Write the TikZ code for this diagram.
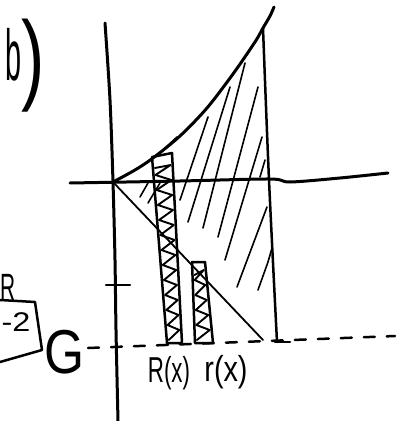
\documentclass[tikz,border=0pt]{standalone}
\usepackage{fontspec}
\usepackage{graphicx}
\setmainfont{Liberation Sans}
\begin{document}
\begin{tikzpicture}[x=1pt,y=-1pt,line cap=round,line join=round,
  axis/.style={line width=3pt},
  thin line/.style={line width=1.8pt},
  hatch/.style={line width=1.6pt},
  strip/.style={line width=2.5pt},
  zig/.style={line width=1.9pt},
  lbl/.style={inner sep=0pt},
  declare function={xl(\t)=152+(\t-157)*15/186; xr(\t)=172+(\t-153)*10/190;
                    sl(\t)=192+(\t-262)*3/81; sr(\t)=205+(\t-262)*8/81;}]
\useasboundingbox (0,0) rectangle (405,421);
% axes
\draw[axis] plot[smooth] coordinates {(105,23) (110,100) (113,182) (115,260) (116,330) (118,421)};
\draw[axis] plot[smooth] coordinates {(70,183) (180,181) (270,179) (290,182) (340,178) (388,173)};
% curve
\draw[axis] plot[smooth] coordinates {(113,182) (135,170) (153,158) (180,136) (207,108) (233,74) (255,42) (263,28) (270,16) (274,7)};
% right boundary
\draw[strip] plot[smooth] coordinates {(263,28) (269,180) (277,342)};
% diagonal
\draw[thin line] (113,182) -- (263,340);
% dashed line y=G
\draw[strip,dash pattern=on 11pt off 12pt] (88,348) -- (395,336);
\draw[strip] (275,342) -- (290,342);
% tick
\draw[strip] (106,285) -- (130,285);
% hatching of region
\draw[hatch] (140,197) -- (148,183);
\draw[hatch] (148,203) -- (160,183);
\draw[hatch] (163,150) -- (177,137);
\draw[hatch] (180,200) -- (208,117);
\draw[hatch] (188,222) -- (230,87);
\draw[hatch] (203,228) -- (245,63);
\draw[hatch] (218,237) -- (258,87);
\draw[hatch] (225,260) -- (262,137);
\draw[hatch] (237,287) -- (267,207);
\draw[hatch] (258,290) -- (268,262) -- (272,248);
\draw[hatch] (260,177) -- (265,160);
% tall strip R(x)
\draw[strip] (152,157) -- (172,153) -- (182,343) -- (167,343) -- cycle;
\draw[zig] ({xl(168)+2},168) \foreach \y in {165,180,...,330}{ -- ({xr(\y)-2},\y) -- ({xl(\y+10)+2},{\y+10}) };
% small strip r(x)
\draw[strip] (192,262) -- (205,262) -- (213,343) -- (195,343) -- cycle;
\draw[zig] ({sl(275)+2},275) \foreach \y in {270,285,...,330}{ -- ({sr(\y)-2},\y) -- ({sl(\y+10)+2},{\y+10}) };
% left box
\draw[strip] (0,300) -- (35,302) -- (42,350) -- (0,362);
% labels
\node[lbl] (b) at (14,55) {\scalebox{0.4}[1]{\fontsize{72}{72}\selectfont b}};
\node[lbl] (paren) at (33,66) {\scalebox{0.7}[1]{\fontsize{100}{100}\selectfont )}};
\node[lbl] (Rtop) at (8,287) {\scalebox{0.55}[1]{\fontsize{38}{38}\selectfont R}};
\node[lbl] (m2) at (16,322) {\scalebox{1.2}[1]{\fontsize{27}{27}\selectfont -2}};
\node[lbl] (G) at (65,352) {\scalebox{0.83}[1]{\fontsize{62}{62}\selectfont G}};
\node[lbl] (Rx) at (169,373) {\scalebox{0.62}[1]{\fontsize{36}{36}\selectfont R(x)}};
\node[lbl] (rx) at (226,372) {\scalebox{0.8}[1]{\fontsize{36}{36}\selectfont r(x)}};
\end{tikzpicture}
\end{document}
